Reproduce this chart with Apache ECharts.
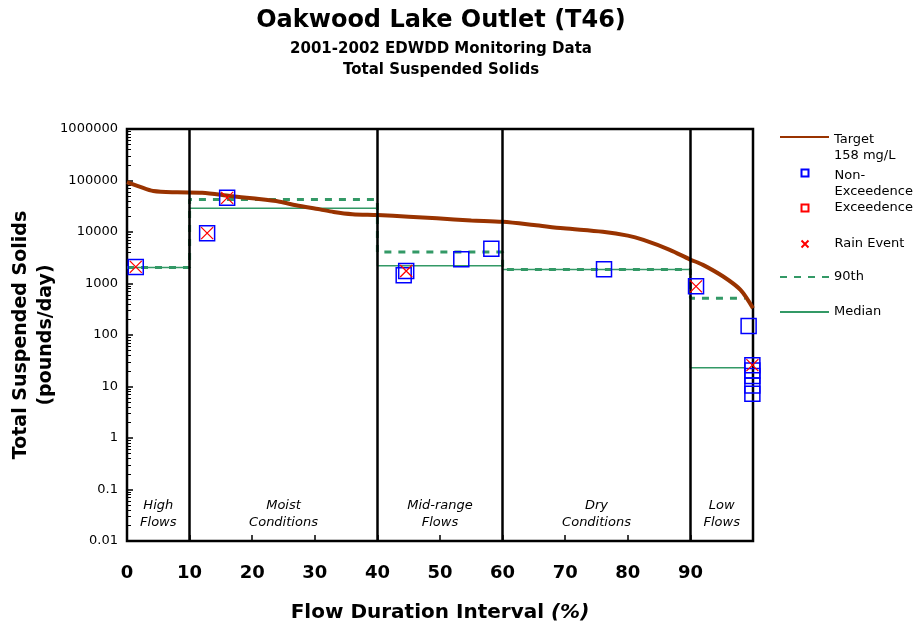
<!DOCTYPE html>
<html>
<head>
<meta charset="utf-8">
<script src="https://cdn.jsdelivr.net/npm/echarts@6/dist/echarts.min.js"></script>
<style>
html, body { margin: 0; padding: 0; background: #fff; }
#main { width: 915px; height: 629px; }
</style>
</head>
<body>
<div id="main"></div>
<script>
// load duration curve for the 158 mg/L target
const flowPct = [0, 2, 4.2, 8, 12, 16.5, 20, 24.4, 27, 30.8, 33, 36, 40, 45, 49.5, 55, 60, 65, 69.7, 76, 80, 82.5, 86.7, 89.9, 92, 95.3, 98, 100];
const targetLoad = [93000, 76000, 62500, 59000, 58000, 50000, 45000, 38800, 33000, 27500, 24500, 22200, 21300, 19800, 18400, 16800, 15800, 13700, 11800, 10100, 8500, 7000, 4500, 2950, 2300, 1350, 750, 330];

// flow zones: edges, 90th percentile and median per zone (last value repeats to close the step)
const zoneEdges = [0, 10, 40, 60, 90, 98.7];
const pct90 = [2050, 43000, 4100, 1880, 515, 515];
const medianLoad = [2050, 29000, 2200, 1880, 23, 23];
const zoneNames = ['High\nFlows', 'Moist\nConditions', 'Mid-range\nFlows', 'Dry\nConditions', 'Low\nFlows'];
const zoneBounds = [0, 10, 40, 60, 90, 100];

// samples
const nonExcX = [1.4, 12.8, 16.0, 44.2, 44.6, 53.4, 58.2, 76.2, 90.9, 99.3, 99.9, 99.9, 99.9, 99.9, 99.9];
const nonExcY = [2100, 9500, 46000, 1450, 1750, 2950, 4750, 1900, 880, 150, 26, 20.5, 16, 10.5, 7.2];
const excX = [];
const excY = [];
const rainX = [1.4, 12.8, 16.0, 44.6, 90.9, 99.9];
const rainY = [2100, 9500, 46000, 1750, 880, 26];

const zip = (xs, ys) => xs.map((x, i) => [x, ys[i]]);
const FONT = 'DejaVu Sans';
const GREEN = '#339966';
const CLEAR = 'rgba(0,0,0,0)';
const SQUARE = 'path://M0,0H10V10H0Z';
const CROSS = 'path://M0,0L10,10M0,10L10,0';

const areaData = zoneNames.map((n, i) => [{ xAxis: zoneBounds[i], name: n }, { xAxis: zoneBounds[i + 1] }]);
const dividers = [10, 40, 60, 90].map(v => ({ xAxis: v }));

// legend text: two-line entries get a spacer line so the icon sits by the first line
const legendText = {
  fontFamily: FONT, fontSize: 13, color: '#000', lineHeight: 16,
  rich: {
    p: { fontSize: 2, lineHeight: 22 },
    t: { fontFamily: FONT, fontSize: 13, color: '#000', lineHeight: 16 }
  }
};
function legendAt(name, left, top, h, formatter) {
  let lg = {
    orient: 'vertical', left: left, top: top, padding: 0,
    itemWidth: 49, itemHeight: h, selectedMode: false, symbolKeepAspect: true,
    data: [name], textStyle: legendText
  };
  if (formatter) lg.formatter = formatter;
  return lg;
}

let myChart = echarts.init(document.getElementById('main'));
myChart.setOption({
  animation: false,
  backgroundColor: '#fff',
  title: {
    text: 'Oakwood Lake Outlet (T46)',
    subtext: '2001-2002 EDWDD Monitoring Data\nTotal Suspended Solids',
    left: 441, top: 9, padding: 0, textAlign: 'center', itemGap: 6,
    textStyle: { fontFamily: FONT, fontSize: 24, fontWeight: 'bold', color: '#000' },
    subtextStyle: { fontFamily: FONT, fontSize: 15, fontWeight: 'bold', color: '#000', lineHeight: 20.5 }
  },
  legend: [
    legendAt('Target', 779, 110, 14, '{p| }\n{t|Target}\n{t|158 mg/L}'),
    legendAt('Non-Exceedence', 800.5, 146, 7, '{p| }\n{t|Non-}\n{t|Exceedence}'),
    legendAt('Exceedence', 800.5, 200, 7),
    legendAt('Rain Event', 800.5, 236, 7),
    legendAt('90th', 779, 269, 14),
    legendAt('Median', 779, 304, 14)
  ],
  grid: {
    left: 127, right: 162, top: 129, bottom: 88,
    containLabel: false, outerBoundsMode: 'none',
    show: true, borderColor: '#000', borderWidth: 2.5, backgroundColor: 'transparent'
  },
  xAxis: {
    type: 'value', min: 0, max: 100, interval: 10,
    name: 'Flow Duration Interval {i|(%)}',
    nameLocation: 'middle', nameGap: 62,
    nameTextStyle: {
      fontFamily: FONT, fontSize: 20, fontWeight: 'bold', color: '#000',
      rich: { i: { fontFamily: FONT, fontSize: 20, fontWeight: 'bold', fontStyle: 'italic', color: '#000' } }
    },
    axisLine: { lineStyle: { color: '#000', width: 2 } },
    axisTick: { inside: true, length: 6, lineStyle: { color: '#000', width: 1.5 } },
    axisLabel: {
      margin: 23, fontFamily: FONT, fontSize: 18, fontWeight: 'bold', color: '#000',
      formatter: v => (v >= 100 ? '' : String(v))
    },
    splitLine: { show: false }
  },
  yAxis: {
    type: 'log', logBase: 10, min: 0.01, max: 1000000, splitNumber: 8,
    name: 'Total Suspended Solids\n(pounds/day)',
    nameLocation: 'middle', nameGap: 68, nameMoveOverlap: false,
    nameTextStyle: { fontFamily: FONT, fontSize: 19, fontWeight: 'bold', color: '#000', lineHeight: 25 },
    axisLine: { show: true, lineStyle: { color: '#000', width: 2 } },
    axisTick: { show: true, inside: true, length: 6, lineStyle: { color: '#000', width: 1.5 } },
    minorTick: { show: true, splitNumber: 9, length: 4, lineStyle: { color: '#000', width: 1 } },
    axisLabel: {
      margin: 9, fontFamily: FONT, fontSize: 13, color: '#000',
      formatter: v => String(+(+v).toPrecision(6))
    },
    splitLine: { show: false }
  },
  series: [
    {
      name: '90th', type: 'line', step: 'end', symbol: 'none', z: 2,
      data: zip(zoneEdges, pct90),
      lineStyle: { color: GREEN, width: 3, type: [7, 7] },
      itemStyle: { color: CLEAR },
      markLine: {
        silent: true, symbol: 'none', z: 4,
        label: { show: false },
        lineStyle: { color: '#000', width: 2.5, type: 'solid' },
        data: dividers
      }
    },
    {
      name: 'Median', type: 'line', step: 'end', symbol: 'none', z: 2,
      data: zip(zoneEdges, medianLoad),
      lineStyle: { color: GREEN, width: 1.5 },
      itemStyle: { color: CLEAR },
      markArea: {
        silent: true,
        itemStyle: { color: 'transparent' },
        label: {
          position: 'insideBottom', distance: 10,
          fontFamily: FONT, fontSize: 13, fontStyle: 'italic', color: '#000', lineHeight: 17
        },
        data: areaData
      }
    },
    {
      name: 'Target', type: 'line', smooth: 0.3, symbol: 'none', z: 3,
      data: zip(flowPct, targetLoad),
      lineStyle: { color: '#993300', width: 4 },
      itemStyle: { color: CLEAR }
    },
    {
      name: 'Non-Exceedence', type: 'scatter', symbol: SQUARE, symbolSize: 15, z: 5, clip: false,
      symbolKeepAspect: true,
      data: zip(nonExcX, nonExcY),
      itemStyle: { color: CLEAR, borderColor: '#0000ff', borderWidth: 1.5, opacity: 1 }
    },
    {
      name: 'Exceedence', type: 'scatter', symbol: SQUARE, symbolSize: 15, z: 5, clip: false,
      symbolKeepAspect: true,
      data: zip(excX, excY),
      itemStyle: { color: CLEAR, borderColor: '#ff0000', borderWidth: 1.5, opacity: 1 }
    },
    {
      name: 'Rain Event', type: 'scatter', symbol: CROSS, symbolSize: 12, z: 6, clip: false,
      data: zip(rainX, rainY),
      itemStyle: { color: CLEAR, borderColor: '#ff0000', borderWidth: 1.3, opacity: 1 }
    }
  ]
});
</script>
</body>
</html>
